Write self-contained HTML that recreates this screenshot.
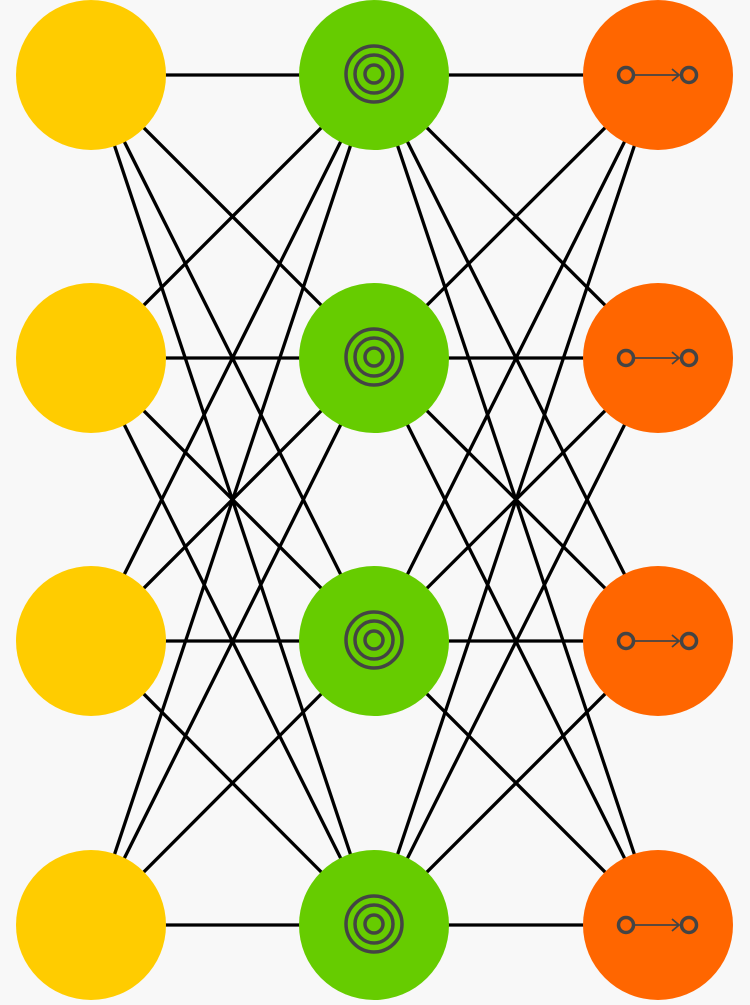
<!DOCTYPE html>
<html><head><style>html,body{margin:0;padding:0;background:#f8f8f8;}</style></head>
<body>
<svg width="750" height="1000" viewBox="0 0 750 1000" xmlns="http://www.w3.org/2000/svg">
<rect width="750" height="1000" fill="#f8f8f8"/>
<g stroke="#000" stroke-width="3.3">
<line x1="91" y1="75" x2="374" y2="75"/><line x1="91" y1="75" x2="374" y2="358"/><line x1="91" y1="75" x2="374" y2="641"/><line x1="91" y1="75" x2="374" y2="925"/>
<line x1="91" y1="358" x2="374" y2="75"/><line x1="91" y1="358" x2="374" y2="358"/><line x1="91" y1="358" x2="374" y2="641"/><line x1="91" y1="358" x2="374" y2="925"/>
<line x1="91" y1="641" x2="374" y2="75"/><line x1="91" y1="641" x2="374" y2="358"/><line x1="91" y1="641" x2="374" y2="641"/><line x1="91" y1="641" x2="374" y2="925"/>
<line x1="91" y1="925" x2="374" y2="75"/><line x1="91" y1="925" x2="374" y2="358"/><line x1="91" y1="925" x2="374" y2="641"/><line x1="91" y1="925" x2="374" y2="925"/>
<line x1="374" y1="75" x2="658" y2="75"/><line x1="374" y1="75" x2="658" y2="358"/><line x1="374" y1="75" x2="658" y2="641"/><line x1="374" y1="75" x2="658" y2="925"/>
<line x1="374" y1="358" x2="658" y2="75"/><line x1="374" y1="358" x2="658" y2="358"/><line x1="374" y1="358" x2="658" y2="641"/><line x1="374" y1="358" x2="658" y2="925"/>
<line x1="374" y1="641" x2="658" y2="75"/><line x1="374" y1="641" x2="658" y2="358"/><line x1="374" y1="641" x2="658" y2="641"/><line x1="374" y1="641" x2="658" y2="925"/>
<line x1="374" y1="925" x2="658" y2="75"/><line x1="374" y1="925" x2="658" y2="358"/><line x1="374" y1="925" x2="658" y2="641"/><line x1="374" y1="925" x2="658" y2="925"/>
</g>
<g fill="#ffcc00">
<circle cx="91" cy="75" r="75"/><circle cx="91" cy="358" r="75"/><circle cx="91" cy="641" r="75"/><circle cx="91" cy="925" r="75"/>
</g>
<g fill="#66cc00">
<circle cx="374" cy="75" r="75"/><circle cx="374" cy="358" r="75"/><circle cx="374" cy="641" r="75"/><circle cx="374" cy="925" r="75"/>
</g>
<g fill="#ff6600">
<circle cx="658" cy="75" r="75"/><circle cx="658" cy="358" r="75"/><circle cx="658" cy="641" r="75"/><circle cx="658" cy="925" r="75"/>
</g>
<defs>
<g id="tg" fill="none" stroke="#444" stroke-width="3.5">
<circle r="28"/><circle r="19"/><circle r="9"/>
</g>
<g id="ar" fill="none" stroke="#444">
<circle cx="-32" r="7.5" stroke-width="3.5"/><circle cx="31" r="7.5" stroke-width="3.5"/>
<line x1="-23" y1="0" x2="21" y2="0" stroke-width="1.8"/>
<polyline points="14,-6 21,0 14,6" stroke-width="1.8"/>
</g>
</defs>
<use href="#tg" x="374" y="74"/><use href="#tg" x="374" y="357"/><use href="#tg" x="374" y="640"/><use href="#tg" x="374" y="924"/>
<use href="#ar" x="658" y="75"/><use href="#ar" x="658" y="358"/><use href="#ar" x="658" y="641"/><use href="#ar" x="658" y="925"/>
</svg>
</body></html>
